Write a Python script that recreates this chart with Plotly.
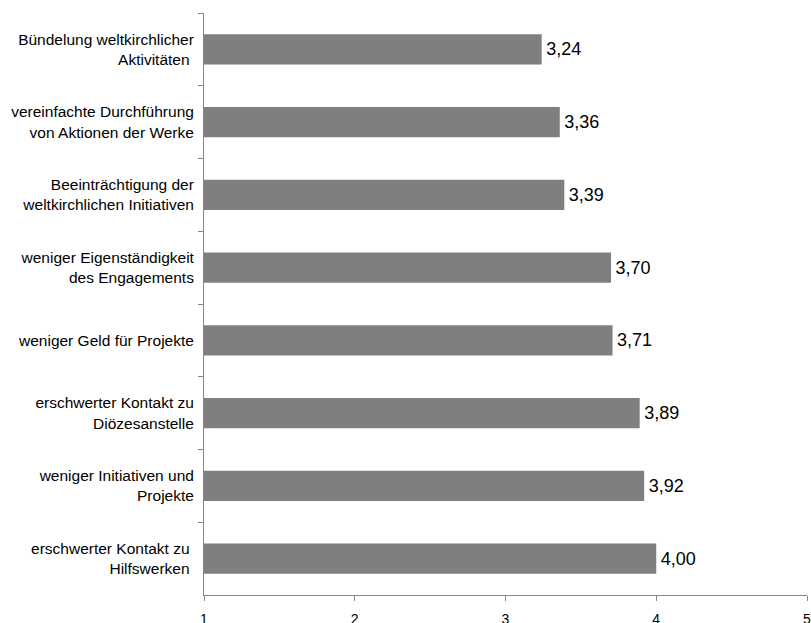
import plotly.graph_objects as go

categories = [
    "Bündelung weltkirchlicher<br>Aktivitäten\u00a0",
    "vereinfachte Durchführung<br>von Aktionen der Werke",
    "Beeinträchtigung der<br>weltkirchlichen Initiativen",
    "weniger Eigenständigkeit<br>des Engagements",
    "weniger Geld für Projekte",
    "erschwerter Kontakt zu<br>Diözesanstelle",
    "weniger Initiativen und<br>Projekte",
    "erschwerter Kontakt zu\u00a0<br>Hilfswerken\u00a0",
]
values = [3.24, 3.36, 3.39, 3.70, 3.71, 3.89, 3.92, 4.00]
x_ticks = [1, 2, 3, 4, 5]

labels = ["\u200a" + f"{v:.2f}".replace(".", ",") for v in values]

FONT = "Liberation Sans, Arial, sans-serif"
AXIS_COLOR = "#868686"

fig = go.Figure(
    go.Bar(
        y=categories,
        x=[v - 1 for v in values],
        base=1,
        orientation="h",
        marker=dict(color="#7f7f7f", line=dict(width=0)),
        text=labels,
        textposition="outside",
        textfont=dict(size=18, color="#000000", family=FONT),
        cliponaxis=False,
        hoverinfo="skip",
    )
)

fig.update_layout(
    width=811,
    height=623,
    margin=dict(l=204, r=4, t=13, b=28, autoexpand=False),
    paper_bgcolor="white",
    plot_bgcolor="white",
    showlegend=False,
    bargap=0.587,
    font=dict(family=FONT, color="#000000"),
)

fig.update_xaxes(
    range=[1, 5],
    tickvals=x_ticks,
    ticktext=[str(t) for t in x_ticks],
    showgrid=False,
    zeroline=False,
    showline=True,
    linecolor=AXIS_COLOR,
    linewidth=1,
    ticks="outside",
    ticklen=5,
    tickcolor=AXIS_COLOR,
    tickfont=dict(size=14, color="#000000"),
    ticklabelstandoff=6,
    ticklabeloverflow="allow",
    automargin=False,
)

fig.update_yaxes(
    autorange="reversed",
    showgrid=False,
    zeroline=False,
    showline=True,
    linecolor=AXIS_COLOR,
    linewidth=1,
    ticks="outside",
    ticklen=5,
    tickcolor=AXIS_COLOR,
    tickson="boundaries",
    tickfont=dict(size=15.5, color="#000000"),
    ticklabelstandoff=6,
    automargin=False,
)

fig.write_html(
    "out.html",
    config={"displayModeBar": False},
    post_script="document.body.style.margin='0';document.body.style.overflow='hidden';",
)
